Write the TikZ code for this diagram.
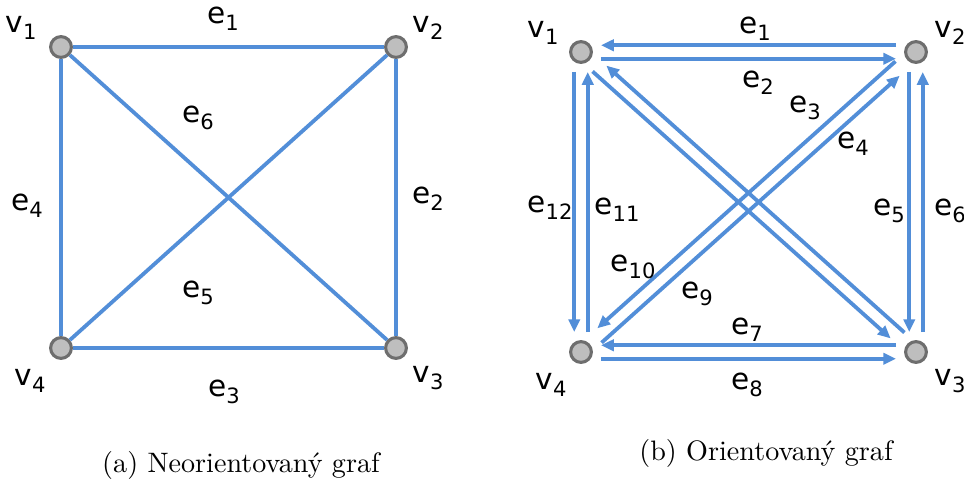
\documentclass[tikz,border=0pt]{standalone}
\usepackage{fontspec}
\newfontfamily\lblfont{DejaVu Sans}
\definecolor{edgeblue}{RGB}{82,142,216}
\definecolor{vxgray}{RGB}{190,190,190}
\definecolor{vxborder}{RGB}{110,110,110}
\usetikzlibrary{arrows.meta}
\newcommand{\idx}[2]{#1\raisebox{-0.45ex}{\fontsize{7.5}{7.5}\selectfont #2}}

\begin{document}
\begin{tikzpicture}[x=0.0125cm, y=-0.0125cm,
    vx/.style={circle, draw=vxborder, fill=vxgray, line width=1.1pt,
      minimum size=0.26cm, inner sep=0pt},
    lbl/.style={font=\lblfont\fontsize{10.5}{12}\selectfont, inner sep=0pt},
    undir/.style={draw=edgeblue, line width=1.35pt},
    dir/.style={undir, -{Triangle[length=0.16cm, width=0.14cm]},
      shorten >=0.1cm, shorten <=0.1cm},
    diag/.style={dir, shorten >=0.2cm, shorten <=0.12cm}
  ]
    \useasboundingbox (0,0) rectangle (964,479);

    % (a) undirected
    \node[vx] (a1) at (61,47)   {};
    \node[vx] (a2) at (396,47)  {};
    \node[vx] (a3) at (396,348) {};
    \node[vx] (a4) at (61,348)  {};
    \draw[undir] (a1) -- (a2);
    \draw[undir] (a2) -- (a3);
    \draw[undir] (a3) -- (a4);
    \draw[undir] (a4) -- (a1);
    \draw[undir] (a1) -- (a3);
    \draw[undir] (a4) -- (a2);

    \node[lbl] (av1) at (21,28)  {\idx{v}{1}};
    \node[lbl] (av2) at (428,28) {\idx{v}{2}};
    \node[lbl] (av3) at (428,378) {\idx{v}{3}};
    \node[lbl] (av4) at (30,381) {\idx{v}{4}};
    \node[lbl] (ae1) at (223,19)  {\idx{e}{1}};
    \node[lbl] (ae2) at (428,199) {\idx{e}{2}};
    \node[lbl] (ae3) at (224,392) {\idx{e}{3}};
    \node[lbl] (ae4) at (27,206)  {\idx{e}{4}};
    \node[lbl] (ae5) at (198,293) {\idx{e}{5}};
    \node[lbl] (ae6) at (198,118) {\idx{e}{6}};

    % (b) directed
    \node[vx] (b1) at (581,52)  {};
    \node[vx] (b2) at (916,52)  {};
    \node[vx] (b3) at (916,352) {};
    \node[vx] (b4) at (581,352) {};

    \draw[dir, transform canvas={yshift=2.4pt}]  (b2) -- (b1);
    \draw[dir, transform canvas={yshift=-2.4pt}] (b1) -- (b2);
    \draw[dir, transform canvas={yshift=2.4pt}]  (b3) -- (b4);
    \draw[dir, transform canvas={yshift=-2.4pt}] (b4) -- (b3);
    \draw[dir, transform canvas={xshift=-2.4pt}] (b1) -- (b4);
    \draw[dir, transform canvas={xshift=2.4pt}]  (b4) -- (b1);
    \draw[dir, transform canvas={xshift=-2.4pt}] (b2) -- (b3);
    \draw[dir, transform canvas={xshift=2.4pt}]  (b3) -- (b2);
    \draw[diag, transform canvas={xshift=1.6pt, yshift=1.8pt}]   (b3) -- (b1);
    \draw[diag, transform canvas={xshift=-1.6pt, yshift=-1.8pt}] (b1) -- (b3);
    \draw[diag, transform canvas={xshift=-1.6pt, yshift=1.8pt}]  (b2) -- (b4);
    \draw[diag, transform canvas={xshift=1.6pt, yshift=-1.8pt}]  (b4) -- (b2);

    \node[lbl] (bv1) at (543,33)  {\idx{v}{1}};
    \node[lbl] (bv2) at (950,33)  {\idx{v}{2}};
    \node[lbl] (bv3) at (950,381) {\idx{v}{3}};
    \node[lbl] (bv4) at (551,385) {\idx{v}{4}};
    \node[lbl] (be1)  at (755,29)  {\idx{e}{1}};
    \node[lbl] (be2)  at (758,83)  {\idx{e}{2}};
    \node[lbl] (be3)  at (805,108) {\idx{e}{3}};
    \node[lbl] (be4)  at (853,144) {\idx{e}{4}};
    \node[lbl] (be5)  at (889,211) {\idx{e}{5}};
    \node[lbl] (be6)  at (950,211) {\idx{e}{6}};
    \node[lbl] (be7)  at (747,330) {\idx{e}{7}};
    \node[lbl] (be8)  at (747,385) {\idx{e}{8}};
    \node[lbl] (be9)  at (697,294) {\idx{e}{9}};
    \node[lbl] (be10) at (633,267) {\idx{e}{10}};
    \node[lbl] (be11) at (617,210) {\idx{e}{11}};
    \node[lbl] (be12) at (550,208) {\idx{e}{12}};

    % captions
    \node (capa) at (241,465) {(a) Neorientovaný graf};
    \node (capb) at (766,453) {(b) Orientovaný graf};
  \end{tikzpicture}
\end{document}
